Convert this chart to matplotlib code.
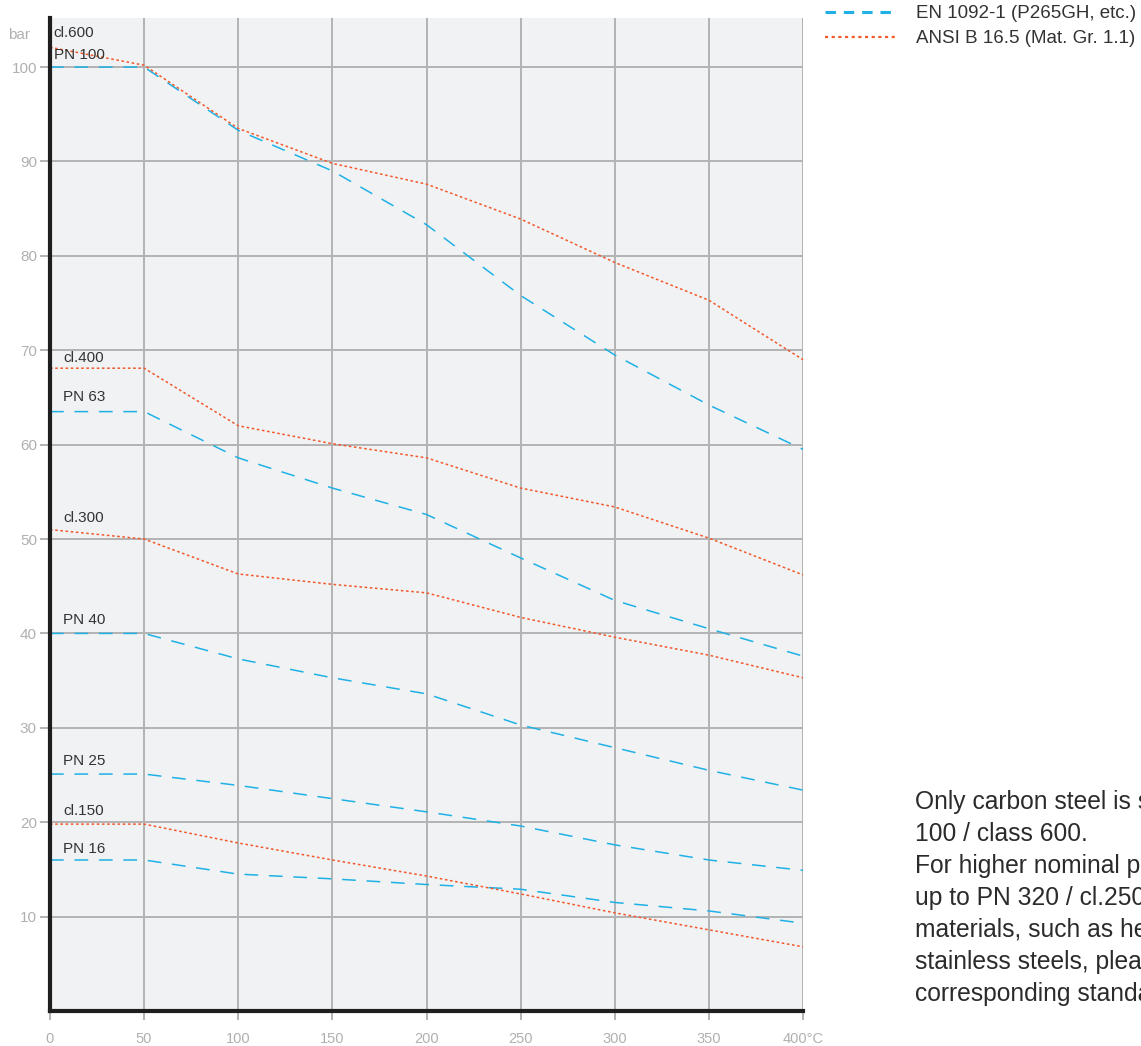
import matplotlib
matplotlib.use("Agg")
import matplotlib.pyplot as plt
from matplotlib.lines import Line2D

plt.rcParams['font.family'] = ['Liberation Sans', 'DejaVu Sans']

temps = [0, 50, 100, 150, 200, 250, 300, 350, 400]

# EN 1092-1 (P265GH) - bar
pn100 = [100, 100, 93.3, 89.0, 83.3, 75.8, 69.5, 64.2, 59.5]
pn63 = [63.5, 63.5, 58.6, 55.4, 52.6, 48.0, 43.5, 40.5, 37.6]
pn40 = [40, 40, 37.3, 35.3, 33.6, 30.3, 27.9, 25.5, 23.4]
pn25 = [25.1, 25.1, 23.9, 22.5, 21.1, 19.6, 17.6, 16.0, 14.9]
pn16 = [16, 16, 14.5, 14.0, 13.4, 12.9, 11.5, 10.6, 9.3]

# ANSI B 16.5 (Mat. Gr. 1.1) - bar
cl600 = [102.1, 100.2, 93.5, 89.8, 87.6, 83.9, 79.3, 75.3, 69.0]
cl400 = [68.1, 68.1, 62.0, 60.1, 58.6, 55.4, 53.4, 50.1, 46.2]
cl300 = [51.0, 50.0, 46.3, 45.2, 44.3, 41.7, 39.6, 37.7, 35.3]
cl150 = [19.8, 19.8, 17.8, 16.0, 14.3, 12.4, 10.4, 8.6, 6.8]

en_series = [("PN 100", pn100), ("PN 63", pn63), ("PN 40", pn40), ("PN 25", pn25), ("PN 16", pn16)]
ansi_series = [("cl.600", cl600), ("cl.400", cl400), ("cl.300", cl300), ("cl.150", cl150)]

x_ticks = [0, 50, 100, 150, 200, 250, 300, 350, 400]
x_labels = ["0", "50", "100", "150", "200", "250", "300", "350", "400°C"]
y_ticks = [10, 20, 30, 40, 50, 60, 70, 80, 90, 100]

# label positions (x, y in data units)
label_pos = {
    "cl.600": (2.0, 103.6), "PN 100": (2.0, 101.3),
    "cl.400": (7.0, 69.2), "PN 63": (7.0, 65.0),
    "cl.300": (7.0, 52.2), "PN 40": (7.0, 41.4),
    "PN 25": (7.0, 26.5), "cl.150": (7.0, 21.2), "PN 16": (7.0, 17.2),
}

BLUE = "#1fb1e6"
ORANGE = "#f2582a"
GRID = "#b3b3b3"
TICKC = "#b0b0b0"

fig = plt.figure(figsize=(11.41, 10.46), dpi=100)
ax = fig.add_axes([50/1141, 1 - 1011/1046, (803-50)/1141, (1011-18)/1046])
ax.set_facecolor("#f1f2f4")
ax.set_xlim(0, 400)
ax.set_ylim(0, 105.2)

ax.set_xticks(x_ticks)
ax.set_xticklabels(x_labels)
ax.set_yticks(y_ticks)
ax.grid(True, color=GRID, linewidth=1.4, zorder=0)
ax.set_axisbelow(True)
ax.tick_params(axis='both', colors=GRID, width=1.4, labelsize=10.5, labelcolor=TICKC)
ax.tick_params(axis='y', length=7.2, pad=2.2, labelsize=11)
ax.tick_params(axis='x', length=6.5, pad=8.5)

for s in ["top", "right"]:
    ax.spines[s].set_visible(False)
for s in ["left", "bottom"]:
    ax.spines[s].set_color("#1e1e1e")
    ax.spines[s].set_linewidth(3)
    ax.spines[s].set_zorder(5)

for name, vals in en_series:
    ax.plot(temps, vals, color=BLUE, linewidth=1.1, dashes=(9, 7), zorder=3, clip_on=False)
for name, vals in ansi_series:
    ax.plot(temps, vals, color=ORANGE, linewidth=1.1, dashes=(1.7, 1.7), zorder=4, clip_on=False)

for name, (lx, ly) in label_pos.items():
    ax.text(lx, ly, name, fontsize=11, color="#333333", ha="left", va="center", zorder=6)

fig.text(8/1141, 1 - 35/1046, "bar", fontsize=11, color=TICKC, ha="left", va="center")

handles = [Line2D([0], [0], color=BLUE, linewidth=2.2, dashes=(3.4, 2.6)),
           Line2D([0], [0], color=ORANGE, linewidth=1.6, dashes=(1.4, 1.6))]
fig.legend(handles, ["EN 1092-1 (P265GH, etc.)", "ANSI B 16.5 (Mat. Gr. 1.1)"],
           loc="upper left", bbox_to_anchor=(825/1141, 1 - 5/1046), frameon=False,
           fontsize=13.5, handlelength=3.9, handletextpad=0.95, labelspacing=0.42,
           labelcolor="#333333", borderaxespad=0, borderpad=0)

note = ("Only carbon steel is shown up to PN\n"
        "100 / class 600.\n"
        "For higher nominal pressures\n"
        "up to PN 320 / cl.2500 and other\n"
        "materials, such as heat-resistant\n"
        "stainless steels, please refer to the\n"
        "corresponding standards.")
fig.text(915/1141, 1 - 790/1046, note, fontsize=17.7, color="#2b2b2b", ha="left", va="top",
         linespacing=1.42)

fig.savefig("out.png", dpi=100)
